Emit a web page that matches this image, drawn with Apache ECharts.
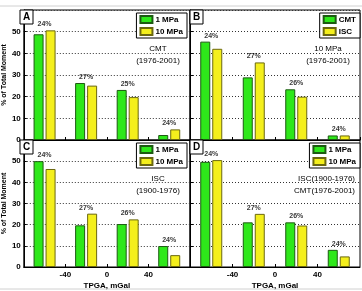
<!DOCTYPE html>
<html>
<head>
<meta charset="utf-8">
<script src="https://cdn.jsdelivr.net/npm/echarts@6/dist/echarts.min.js"></script>
<style>
  html, body { margin: 0; padding: 0; background: #fff; }
  #chart { width: 362px; height: 291px; }
</style>
</head>
<body>
<div id="chart"></div>
<script>
// TPGA bins (centres, mGal)
const categories = ['-60', '-20', '20', '60'];

// panel A: CMT (1976-2001)
const aGreen = [48.8, 26.3, 23.1, 2.3];
const aYellow = [50.6, 25.1, 19.8, 4.9];
const aPct = ['24%', '27%', '25%', '24%'];
// panel B: 10 MPa (1976-2001)
const bGreen = [45.4, 28.9, 23.4, 2.1];
const bYellow = [42.1, 35.8, 20.0, 2.1];
const bPct = ['24%', '27%', '26%', '24%'];
// panel C: ISC (1900-1976)
const cGreen = [50.0, 19.7, 20.3, 9.9];
const cYellow = [46.3, 25.2, 22.5, 5.6];
const cPct = ['24%', '27%', '26%', '24%'];
// panel D: ISC + CMT
const dGreen = [49.7, 21.1, 21.1, 8.1];
const dYellow = [50.5, 25.1, 19.6, 5.0];
const dPct = ['24%', '27%', '26%', '24%'];

const FONT = 'Liberation Sans';
const GREEN = '#2ee81a';
const YELLOW = '#f4ef1c';

const panels = [
    { letter: 'A', green: aGreen, yellow: aYellow, pct: aPct, names: ['1 MPa', '10 MPa'],
      grid: { left: 20, top: 10 }, note: ['CMT', '(1976-2001)'], noteAlign: 'center', noteX: 158, noteY: 49 },
    { letter: 'B', green: bGreen, yellow: bYellow, pct: bPct, names: ['CMT', 'ISC'],
      grid: { left: 190, top: 10 }, note: ['10 MPa', '(1976-2001)'], noteAlign: 'center', noteX: 328, noteY: 49 },
    { letter: 'C', green: cGreen, yellow: cYellow, pct: cPct, names: ['1 MPa', '10 MPa'],
      grid: { left: 20, top: 140 }, note: ['ISC', '(1900-1976)'], noteAlign: 'center', noteX: 158, noteY: 179 },
    { letter: 'D', green: dGreen, yellow: dYellow, pct: dPct, names: ['1 MPa', '10 MPa'],
      grid: { left: 190, top: 140 }, note: ['ISC(1900-1976)', 'CMT(1976-2001)'], noteAlign: 'right', noteX: 355, noteY: 179 }
];

const grids = [], xAxes = [], yAxes = [], series = [], legends = [], graphics = [];

// light page lines
graphics.push({ type: 'line', shape: { x1: 0, y1: 6, x2: 362, y2: 6 }, style: { stroke: '#d0d0d0', lineWidth: 1 } });
graphics.push({ type: 'line', shape: { x1: 0, y1: 289, x2: 362, y2: 289 }, style: { stroke: '#d0d0d0', lineWidth: 1 } });

panels.forEach((p, i) => {
    const isLeft = i % 2 === 0;
    const isBottom = i >= 2;
    grids.push({ left: p.grid.left, top: p.grid.top, width: 170, height: 130,
        show: true, borderColor: '#000', borderWidth: 1, backgroundColor: '#fff' });

    // category axis carries the bars
    xAxes.push({ type: 'category', gridIndex: i, position: 'bottom', data: categories, show: false, boundaryGap: true });
    // value axis carries the TPGA ticks
    xAxes.push({
        type: 'value', gridIndex: i, position: 'bottom', min: -80, max: 80, interval: 40,
        axisLine: { show: true, onZero: false, lineStyle: { color: '#000' } },
        axisTick: { show: true, inside: true, length: 3, lineStyle: { color: '#000' } },
        splitLine: { show: false },
        axisLabel: { show: isBottom, showMinLabel: false, showMaxLabel: false,
            fontFamily: FONT, fontSize: 8, fontWeight: 'bold', color: '#000', margin: 4 },
        name: isBottom ? 'TPGA, mGal' : '', nameLocation: 'middle', nameGap: 15,
        nameTextStyle: { fontFamily: FONT, fontSize: 8, fontWeight: 'bold', color: '#000' }
    });
    yAxes.push({
        type: 'value', gridIndex: i, position: 'left', min: 0, max: 60, interval: 10,
        axisLine: { show: true, onZero: false, lineStyle: { color: '#000' } },
        axisTick: { show: true, inside: true, length: 3, lineStyle: { color: '#000' } },
        splitLine: { show: true, lineStyle: { color: '#333', type: [1, 2], width: 1 } },
        axisLabel: { show: isLeft, showMaxLabel: false,
            fontFamily: FONT, fontSize: 8, fontWeight: 'bold', color: '#000', margin: 3 },
        name: isLeft ? '% of Total Moment' : '', nameLocation: 'middle', nameGap: 12, nameRotate: 90,
        nameTextStyle: { fontFamily: FONT, fontSize: 7, fontWeight: 'bold', color: '#000' }
    });

    const xi = i * 2;
    series.push({
        name: p.names[0], type: 'bar', xAxisIndex: xi, yAxisIndex: i, data: p.green,
        barWidth: 10, barGap: '20%',
        itemStyle: { color: GREEN, borderColor: '#1d5a12', borderWidth: 1 }
    });
    series.push({
        name: p.names[1], type: 'bar', xAxisIndex: xi, yAxisIndex: i, data: p.yellow,
        barWidth: 10, barGap: '20%',
        itemStyle: { color: YELLOW, borderColor: '#6b6810', borderWidth: 1 }
    });
    // percentage labels above each group
    series.push({
        type: 'scatter', xAxisIndex: xi, yAxisIndex: i, symbolSize: 1,
        itemStyle: { color: 'rgba(0,0,0,0)' },
        data: p.green.map((g, k) => Math.max(g, p.yellow[k])),
        label: { show: true, position: 'top', distance: 2, formatter: prm => p.pct[prm.dataIndex],
            fontFamily: FONT, fontSize: 7, fontWeight: 'bold', color: '#000' },
        silent: true, z: 5
    });

    legends.push({
        data: p.names, orient: 'vertical', icon: 'rect',
        right: isLeft ? 362 - 187 : 2, top: p.grid.top + 3,
        itemWidth: 12, itemHeight: 7, itemGap: 3,
        padding: [2, 4, 2, 3], borderColor: '#000', borderWidth: 1, backgroundColor: '#fff',
        selectedMode: false,
        textStyle: { fontFamily: FONT, fontSize: 8, fontWeight: 'bold', color: '#000', padding: [0, 0, 0, -2] }
    });

    // panel letter box
    graphics.push({ type: 'rect', shape: { x: p.grid.left, y: p.grid.top, width: 13, height: 14 },
        style: { fill: '#fff', stroke: '#000', lineWidth: 1 }, z: 100 });
    graphics.push({ type: 'text', x: p.grid.left + 6.5, y: p.grid.top + 7.5, z: 101,
        style: { text: p.letter, fontFamily: FONT, fontSize: 10, fontWeight: 'bold', fill: '#000',
            textAlign: 'center', textVerticalAlign: 'middle' } });
    // annotation
    p.note.forEach((t, k) => {
        graphics.push({ type: 'text', x: p.noteX, y: p.noteY + k * 12, z: 101,
            style: { text: t, fontFamily: FONT, fontSize: 8, fill: '#000',
                textAlign: p.noteAlign, textVerticalAlign: 'middle' } });
    });
});

const chart = echarts.init(document.getElementById('chart'));
chart.setOption({
    animation: false,
    grid: grids,
    xAxis: xAxes,
    yAxis: yAxes,
    legend: legends,
    series: series,
    graphic: graphics
});
</script>
</body>
</html>
